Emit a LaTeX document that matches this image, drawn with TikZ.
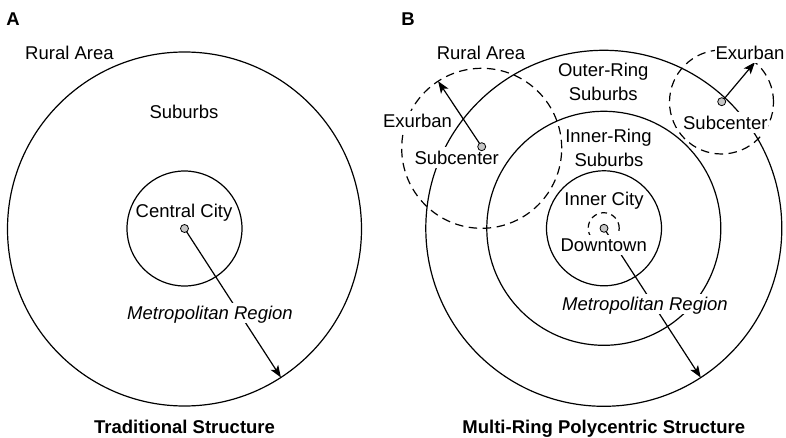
\documentclass[tikz,border=0pt]{standalone}
\usepackage{fontspec}
\setmainfont{Liberation Sans}
\usetikzlibrary{arrows.meta}
\pgfdeclarelayer{bg}
\pgfsetlayers{bg,main}
\begin{document}
\begin{tikzpicture}[x=1bp,y=-1bp,
  ring/.style={circle,draw,line width=1.2bp,minimum size=#1,inner sep=0pt,outer sep=0pt},
  dring/.style={ring=#1,dash pattern=on 8.5bp off 5.5bp},
  lbl/.style={fill=white,inner xsep=1bp,inner ysep=3.5bp,text height=13.3bp,text depth=0bp,
    font=\fontsize{18.5bp}{24bp}\selectfont},
  ttl/.style={lbl,font=\fontsize{18.5bp}{24bp}\selectfont\bfseries},
  dot/.style={circle,draw,fill=gray!45,minimum size=8bp,line width=0.8bp,inner sep=0pt,outer sep=0pt},
  arr/.style={line width=1.2bp,-{Stealth[length=12bp,width=9bp,inset=3bp]}}]
\useasboundingbox (0,0) rectangle (786,438);

% ---------- labels (panel A)
\node[ttl] (labA) at (13,18.5) {A};
\node[lbl,anchor=west] (ruralA) at (24,53) {Rural Area};
\node[lbl] (subA) at (184,112) {Suburbs};
\node[lbl] (ccA) at (184,211) {Central City};
\node[lbl,font=\fontsize{18.5bp}{24bp}\selectfont\itshape] (metA) at (210,313) {Metropolitan Region};
\node[ttl] (titA) at (184.5,427) {Traditional Structure};

% ---------- labels (panel B)
\node[ttl] (labB) at (408,18.5) {B};
\node[lbl] (ruralB) at (481,52.7) {Rural Area};
\node[lbl] (orB1) at (603.3,70) {Outer-Ring};
\node[lbl] (orB2) at (603.3,94) {Suburbs};
\node[lbl] (irB1) at (608.5,136) {Inner-Ring};
\node[lbl] (irB2) at (609,160) {Suburbs};
\node[lbl] (icB) at (604,199) {Inner City};
\node[lbl] (dtB) at (603.7,245) {Downtown};
\node[lbl,font=\fontsize{18.5bp}{24bp}\selectfont\itshape] (metB) at (645,304) {Metropolitan Region};
\node[ttl] (titB) at (603.8,427) {Multi-Ring Polycentric Structure};
\node[lbl] (exL) at (417.5,120.7) {Exurban};
\node[lbl] (scL) at (456.7,157.5) {Subcenter};
\node[lbl] (exR) at (750,52.7) {Exurban};
\node[lbl] (scR) at (725.3,122.5) {Subcenter};

% ---------- dots
\node[dot] (dA) at (184.5,228.5) {};
\node[dot] (dB) at (604,228.3) {};
\node[dot] (dL) at (481.7,146.7) {};
\node[dot] (dR) at (721.7,101.7) {};

\begin{pgfonlayer}{bg}
  % panel A rings
  \node[ring=354bp] (outA) at (184.5,229) {};
  \node[ring=115bp] (inA) at (184.5,228.5) {};
  % panel B rings
  \node[ring=356bp] (outB) at (603.8,228.3) {};
  \node[ring=234bp] (midB) at (603.8,228.3) {};
  \node[ring=115bp] (inB) at (604,228.3) {};
  \node[ring=31bp,dash pattern=on 6bp off 4.5bp] (tinyB) at (603.7,228.2) {};
  \node[dring=160bp] (subL) at (481.7,148.3) {};
  \node[dring=104bp] (subR) at (721.5,102) {};
  % arrows
  \draw[arr] (dA) -- (outA.-57.1);
  \draw[arr] (dB) -- (outB.-57.8);
  \draw[arr] (dL) -- (subL.123.7);
  \draw[arr] (dR) -- (subR.50.4);
\end{pgfonlayer}
\end{tikzpicture}
\end{document}
